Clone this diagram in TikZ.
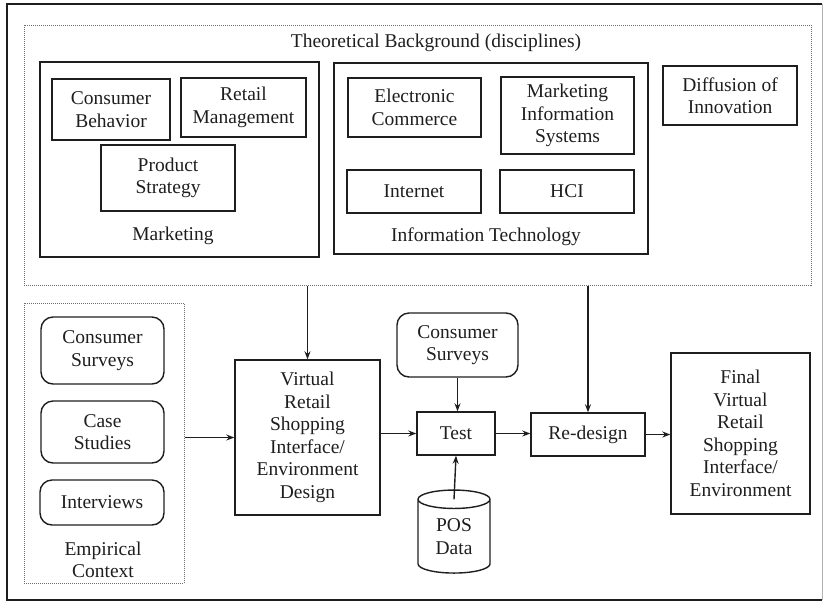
\documentclass[tikz,border=0pt]{standalone}
\usepackage{fontspec}
\setmainfont{Liberation Serif}
\usetikzlibrary{positioning,shapes.geometric,arrows.meta}
\definecolor{lineColor}{RGB}{30,30,30}
\definecolor{groupColor}{RGB}{110,110,110}
\tikzstyle{diagram} = [x = 1pt, y = -1pt]
\tikzstyle{boxStyle} = [draw=lineColor, line width=1.4pt, align=center, inner sep=0pt, text=lineColor, font=\fontsize{19.5}{22.5}\selectfont]
\tikzstyle{roundBoxStyle} = [boxStyle, rounded corners=12pt]
\tikzstyle{groupStyle} = [draw=groupColor, densely dotted, line width=1pt, inner sep=0pt]
\tikzstyle{labelStyle} = [align=center, inner sep=0pt, text=lineColor, font=\fontsize{19.5}{22.5}\selectfont]
\tikzstyle{flowArrow} = [draw=lineColor, line width=1.4pt, -{Stealth[length=8pt,width=6pt]}]
\newcommand{\boxNode}[7][boxStyle]{\node [#1, minimum width=#5, minimum height=#6] (#2) at (#3,#4) {#7};}
\newcommand{\groupBox}[5]{\node [groupStyle, minimum width=#4, minimum height=#5] (#1) at (#2,#3) {};}

\begin{document}
\begin{tikzpicture}[diagram]
  \useasboundingbox (0,0) rectangle (826,603);
  % frame
  \draw [lineColor, line width=1.4pt] (822,4) -- (7,4) -- (7,600) -- (822,600);
  \draw [gray!60, line width=.6pt] (822,4) -- (822,600);

  % theoretical background
  \groupBox{theory}{417.5}{155}{787}{260}
  \node [labelStyle] (theoryLabel) at (436,43) {Theoretical Background (disciplines)};

  \boxNode{marketing}{179.5}{159.5}{279}{195}{}
  \boxNode{consumerBehavior}{111}{109.5}{118}{61}{Consumer\\Behavior}
  \boxNode{retailManagement}{243.5}{107.5}{125}{59}{Retail\\Management}
  \boxNode{productStrategy}{168}{178}{134}{66}{Product\\Strategy}
  \node [labelStyle] (marketingLabel) at (173,236) {Marketing};

  \boxNode{infoTech}{491}{158.5}{314}{191}{}
  \boxNode{eCommerce}{414.5}{107.5}{133}{59}{Electronic\\Commerce}
  \boxNode{mis}{567.5}{115.5}{133}{77}{Marketing\\Information\\Systems}
  \boxNode{internet}{414}{191.5}{134}{43}{Internet}
  \boxNode{hci}{567}{191.5}{134}{43}{HCI}
  \node [labelStyle] (infoTechLabel) at (486,237) {Information Technology};

  \boxNode{diffusion}{730}{95.5}{134}{59}{Diffusion of\\Innovation}

  % empirical context
  \groupBox{empirical}{104}{443}{160}{280}
  \boxNode[roundBoxStyle]{surveysA}{102.5}{350.5}{123}{67}{Consumer\\Surveys}
  \boxNode[roundBoxStyle]{caseStudies}{102.5}{432}{123}{62}{Case\\Studies}
  \boxNode[roundBoxStyle]{interviews}{102}{502.5}{124}{45}{Interviews}
  \node [labelStyle] (empiricalLabel) at (103,560) {Empirical\\Context};

  % design process
  \boxNode{design}{307.5}{437.5}{145}{155}{Virtual\\Retail\\Shopping\\Interface/\\Environment\\Design}
  \boxNode[roundBoxStyle]{surveysB}{457.5}{345}{121}{64}{Consumer\\Surveys}
  \boxNode{test}{456}{433.5}{78}{43}{Test}
  \node [boxStyle, cylinder, shape border rotate=90, aspect=.5, minimum width=72, minimum height=83] (posData) at (454,536.5) {POS\\Data};
  \boxNode{redesign}{588}{434.5}{114}{43}{Re-design}
  \boxNode{final}{740.5}{433.5}{139}{161}{Final\\Virtual\\Retail\\Shopping\\Interface/\\Environment}

  \draw [flowArrow] (theory.south -| design.north) -- (design.north);
  \draw [flowArrow] (theory.south -| redesign.north) -- (redesign.north);
  \draw [flowArrow] (empirical.east |- design.west) -- (design.west);
  \draw [flowArrow] (design.east |- test.west) -- (test.west);
  \draw [flowArrow] (surveysB.south) -- (surveysB.south |- test.north);
  \draw [flowArrow] ([yshift=-10pt]posData.north) -- (test.south);
  \draw [flowArrow] (test.east) -- (redesign.west |- test.east);
  \draw [flowArrow] (redesign.east) -- (final.west |- redesign.east);
\end{tikzpicture}
\end{document}
